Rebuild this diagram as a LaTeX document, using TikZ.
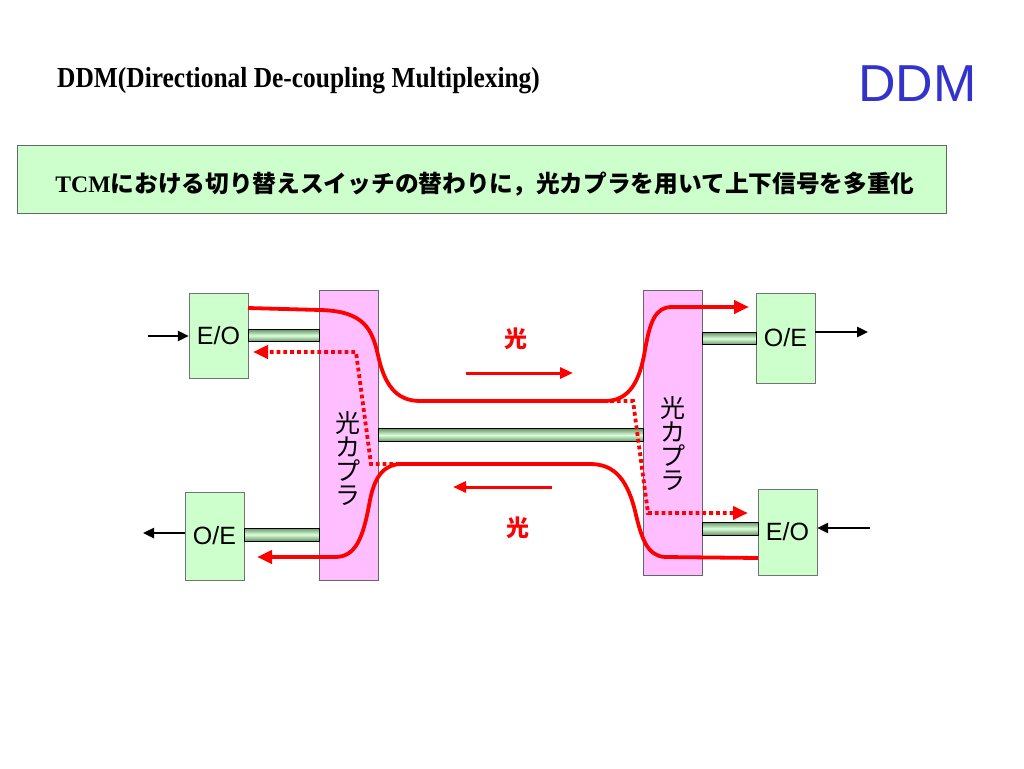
\documentclass[tikz,border=0pt]{standalone}
\usepackage{fontspec}
\setmainfont{Liberation Serif}
\setsansfont{Liberation Sans}
\newfontfamily\cjk{Noto Sans CJK JP}
\usetikzlibrary{arrows.meta}
\definecolor{ddmblue}{RGB}{51,51,204}
\definecolor{unitgreen}{RGB}{204,255,204}
\definecolor{couplerpink}{RGB}{255,190,255}
\definecolor{fiberdark}{RGB}{100,150,100}
\definecolor{fiberlight}{RGB}{220,255,220}
\definecolor{sigred}{RGB}{255,0,0}
\tikzset{
    unitbox/.style={draw=black!55, fill=unitgreen, minimum width=59pt, inner sep=0pt, font=\sffamily\fontsize{25}{25}\selectfont},
    couplerbox/.style={draw=black!60, fill=couplerpink, minimum width=59pt, inner sep=0pt},
    couplertext/.style={font=\cjk\fontsize{25}{24}\selectfont, align=center, inner sep=0pt},
    fiberbar/.style={draw=black, thick, top color=fiberdark, bottom color=fiberdark, middle color=fiberlight, minimum height=12pt, inner sep=0pt},
    sigline/.style={draw=sigred, line width=3.8pt},
    sigdots/.style={sigline, dash pattern=on 3.8pt off 3pt},
    sighead/.style={-{Triangle[length=15pt,width=13pt]}},
    elecarrow/.style={draw=black, line width=2.4pt, -{Triangle[length=11pt,width=10pt]}},
    dirarrow/.style={draw=sigred, line width=3pt, -{Triangle[length=13pt,width=11pt]}},
    lightlabel/.style={text=sigred, font=\cjk\bfseries\fontsize{23}{23}\selectfont}
}

\begin{document}
\begin{tikzpicture}[x=1pt, y=-1pt]
    \useasboundingbox (0,0) rectangle (1024,768);
    \node[anchor=west, inner sep=0pt, font=\bfseries\fontsize{29}{29}\selectfont] (title) at (57,81) {\scalebox{0.877}[1]{DDM(Directional De-coupling Multiplexing)}};
    \node[anchor=east, inner sep=0pt, text=ddmblue, font=\sffamily\fontsize{52}{52}\selectfont] (ddm) at (977,84) {DDM};
    \node[draw=black!60, fill=unitgreen, minimum width=929pt, minimum height=68pt] (summary) at (481.5,179) {};
    \node[inner sep=0pt, font=\fontsize{23.7}{24}\selectfont] (summarytext) at (485,184)
        {\bfseries TCM{\cjk\bfseries における切り替えスイッチの替わりに，光カプラを用いて上下信号を多重化}};

    \node[couplerbox, minimum height=290pt] (cplL) at (348.5,435) {};
    \node[couplerbox, minimum height=285pt] (cplR) at (672.5,432.5) {};
    \node[couplertext] (cplLtext) at (348,459) {光\\カ\\プ\\ラ};
    \node[couplertext] (cplRtext) at (673,444) {光\\カ\\プ\\ラ};

    \node[unitbox, minimum height=85pt] (eoL) at (218.5,335.5) {E/O};
    \node[unitbox, minimum height=88pt] (oeL) at (214.5,536) {O/E};
    \node[unitbox, minimum height=90pt] (oeR) at (785.5,338) {O/E};
    \node[unitbox, minimum height=86pt] (eoR) at (787.5,532) {E/O};

    \node[fiberbar, minimum width=71pt] (fibLT) at (283.5,335.5) {};
    \node[fiberbar, minimum width=75pt, minimum height=13pt] (fibLB) at (281.5,534.5) {};
    \node[fiberbar, minimum width=265pt, minimum height=13pt] (fibC) at (510.5,435) {};
    \node[fiberbar, minimum width=54pt] (fibRT) at (729,338.5) {};
    \node[fiberbar, minimum width=56pt, minimum height=13pt] (fibRB) at (730,528.5) {};

    \coordinate (inL) at (148,336);
    \coordinate (outL) at (143,533);
    \coordinate (outR) at (868,332);
    \coordinate (inR) at (870,528);
    \draw[elecarrow] (inL) -- (eoL.west |- inL);
    \draw[elecarrow] (oeL.west |- outL) -- (outL);
    \draw[elecarrow] (oeR.east |- outR) -- (outR);
    \draw[elecarrow] (inR) -- (eoR.east |- inR);

    \coordinate (upS) at (248,308);
    \coordinate (upE) at (749,307);
    \coordinate (loS) at (758,558);
    \coordinate (loE) at (257,557);
    \draw[sigline, sighead] (upS) -- (320,310) .. controls (365,311) and (372,330) .. (378,355) .. controls (384,383) and (395,401) .. (420,401)
        -- (605,401) .. controls (630,401) and (640,380) .. (645,350) .. controls (650,322) and (655,307) .. (672,307) -- (upE);
    \draw[sigline, sighead] (loS) -- (665,557) .. controls (648,556) and (642,540) .. (636,515) .. controls (628,480) and (615,464) .. (590,464)
        -- (402,464) .. controls (385,464) and (375,475) .. (370,500) .. controls (363,540) and (355,557) .. (335,557) -- (loE);

    \coordinate (dlS) at (400,464);
    \coordinate (dlE) at (253,352);
    \coordinate (drS) at (610,401);
    \coordinate (drE) at (748,513);
    \draw[sigdots, sighead] (dlS) -- (371,464) -- (356,352) -- (dlE);
    \draw[sigdots, sighead] (drS) -- (633,401) -- (648,513) -- (drE);

    \coordinate (fwS) at (466,373);
    \coordinate (fwE) at (573,373);
    \coordinate (bwS) at (552,487);
    \coordinate (bwE) at (453,487);
    \draw[dirarrow] (fwS) -- (fwE);
    \draw[dirarrow] (bwS) -- (bwE);
    \node[lightlabel] (lightF) at (516,339) {光};
    \node[lightlabel] (lightB) at (518,528) {光};
\end{tikzpicture}
\end{document}
